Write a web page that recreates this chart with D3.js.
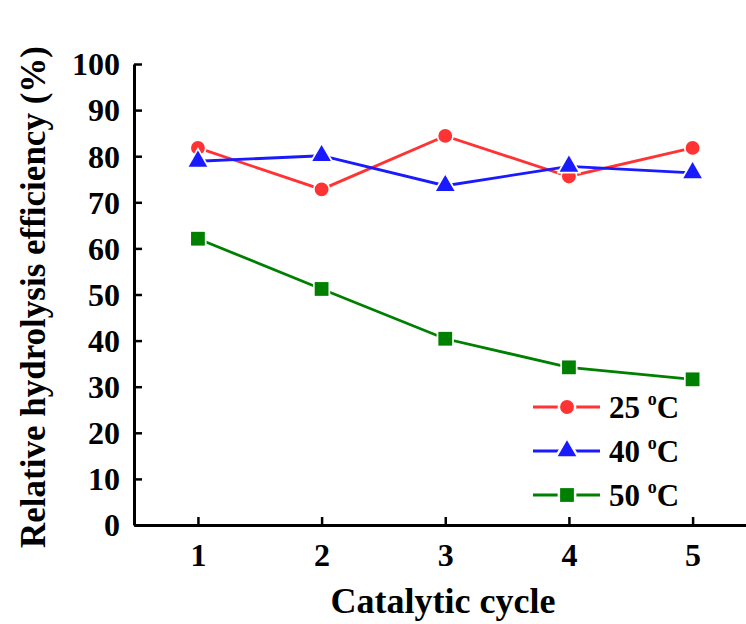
<!DOCTYPE html>
<html>
<head>
<meta charset="utf-8">
<script src="https://cdn.jsdelivr.net/npm/d3@7"></script>
<style>
  body { margin: 0; background: #fff; }
  svg { display: block; font-family: "Liberation Serif", "Times New Roman", serif; font-weight: bold; }
</style>
</head>
<body>
<div id="chart"></div>
<script>
const width = 746;
const height = 624;

const cycles = [1, 2, 3, 4, 5];
const eff25 = [81.8, 72.8, 84.4, 75.6, 81.8];
const eff40 = [78.9, 80.1, 73.6, 77.8, 76.4];
const eff50 = [62.1, 51.2, 40.4, 34.2, 31.6];
const seriesNames = ['25', '40', '50'];
const yTicks = [0, 10, 20, 30, 40, 50, 60, 70, 80, 90, 100];

const series = [
  { name: seriesNames[0], values: eff25, color: '#ff3333', symbol: d3.symbolCircle, size: 150 },
  { name: seriesNames[1], values: eff40, color: '#1a1aff', symbol: d3.symbolTriangle, size: 150 },
  { name: seriesNames[2], values: eff50, color: '#008000', symbol: d3.symbolSquare, size: 190 }
];

const svg = d3.select('#chart')
  .append('svg')
  .attr('width', width)
  .attr('height', height);

const xScale = d3.scaleLinear()
  .domain([0.483, 5.44])
  .range([134, 747]);

const yScale = d3.scaleLinear()
  .domain([0, 100])
  .range([525, 64]);

// axes
const xAxis = d3.axisBottom(xScale).tickValues(cycles).tickFormat(d3.format('d'))
  .tickSize(-8).tickPadding(18).tickSizeOuter(0);
const yAxis = d3.axisLeft(yScale).tickValues(yTicks).tickFormat(d3.format('d'))
  .tickSize(-8).tickPadding(14).tickSizeOuter(0);

const gx = svg.append('g')
  .attr('transform', 'translate(0,' + yScale(0) + ')')
  .call(xAxis);

const gy = svg.append('g')
  .attr('transform', 'translate(' + xScale.range()[0] + ',0)')
  .call(yAxis);

[gx, gy].forEach(g => {
  g.select('.domain').attr('stroke', '#000').attr('stroke-width', 3);
  g.selectAll('.tick line').attr('stroke', '#000').attr('stroke-width', 2.5);
  g.selectAll('.tick text')
    .attr('fill', '#000')
    .style('font-family', '"Liberation Serif", serif')
    .style('font-weight', 'bold')
    .style('font-size', '32px');
});
gy.selectAll('.tick text').attr('dy', '0.34em');
gx.selectAll('.tick text').attr('dy', '0.71em');

// axis titles
svg.append('text')
  .attr('x', 443)
  .attr('y', 613)
  .attr('text-anchor', 'middle')
  .style('font-size', '36px')
  .text('Catalytic cycle');

svg.append('text')
  .attr('transform', 'translate(45,' + 297 + ') rotate(-90)')
  .attr('text-anchor', 'middle')
  .style('font-size', '35px')
  .text('Relative hydrolysis efficiency (%)');

// lines and markers
const line = d3.line()
  .x((d, i) => xScale(cycles[i]))
  .y(d => yScale(d));

series.forEach(s => {
  svg.append('path')
    .datum(s.values)
    .attr('d', line)
    .attr('fill', 'none')
    .attr('stroke', s.color)
    .attr('stroke-width', 2.8);

  svg.selectAll(null)
    .data(s.values)
    .enter()
    .append('path')
    .attr('d', d3.symbol().type(s.symbol).size(s.size))
    .attr('transform', (d, i) => 'translate(' + xScale(cycles[i]) + ',' + yScale(d) + ')')
    .attr('fill', s.color)
    .attr('stroke', '#fff')
    .attr('stroke-width', 3.5)
    .attr('paint-order', 'stroke');
});

// legend
const legend = svg.append('g').attr('transform', 'translate(533,407)');
series.forEach((s, i) => {
  const row = legend.append('g').attr('transform', 'translate(0,' + (i * 44) + ')');
  row.append('line')
    .attr('x1', 0).attr('x2', 67)
    .attr('y1', 0).attr('y2', 0)
    .attr('stroke', s.color)
    .attr('stroke-width', 2.8);
  row.append('path')
    .attr('d', d3.symbol().type(s.symbol).size(s.size))
    .attr('transform', 'translate(34,0)')
    .attr('fill', s.color)
    .attr('stroke', '#fff')
    .attr('stroke-width', 5)
    .attr('paint-order', 'stroke');
  const t = row.append('text')
    .attr('x', 76)
    .attr('y', 11)
    .style('font-size', '31px');
  t.append('tspan').text(s.name + '\u00a0');
  t.append('tspan').attr('dy', -13).style('font-size', '18px').text('o');
  t.append('tspan').attr('dy', 13).text('C');
});
</script>
</body>
</html>
